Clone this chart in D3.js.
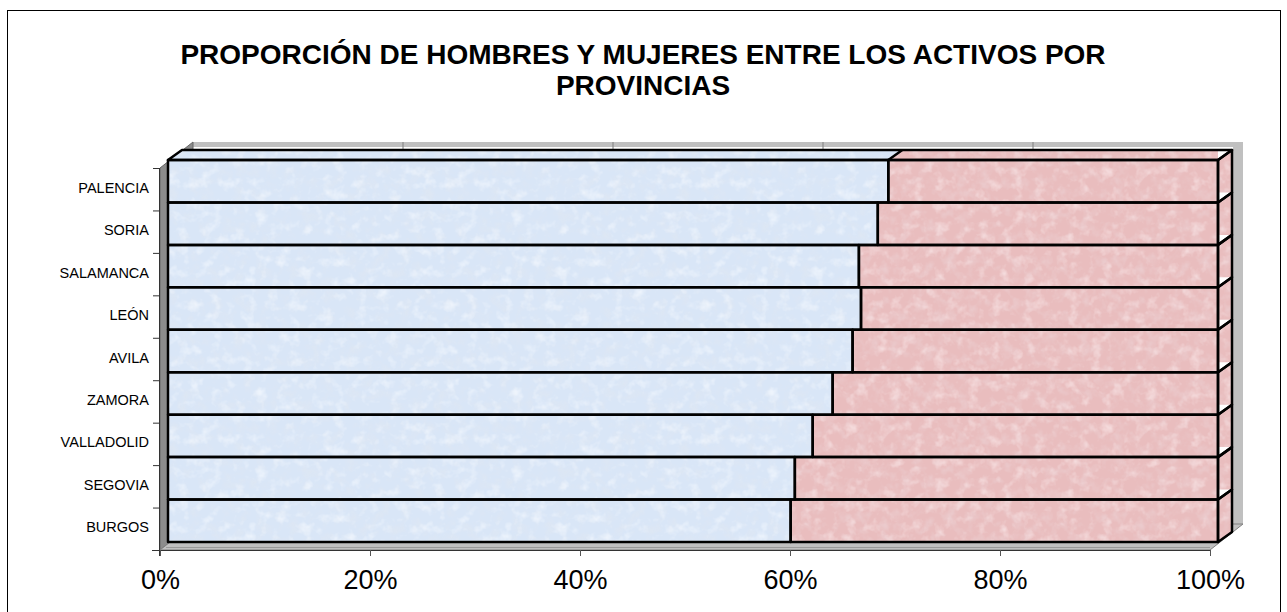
<!DOCTYPE html>
<html>
<head>
<meta charset="utf-8">
<script src="https://cdn.jsdelivr.net/npm/d3@7"></script>
<style>
  body { margin: 0; background: #fff; }
  svg { display: block; font-family: "Liberation Sans", Arial, sans-serif; }
</style>
</head>
<body>
<svg id="chart" width="1287" height="612"></svg>
<script>
// Data (bottom to top, as in the chart)
const categories = ['BURGOS', 'SEGOVIA', 'VALLADOLID', 'ZAMORA', 'AVILA', 'LEÓN', 'SALAMANCA', 'SORIA', 'PALENCIA'];
const hombres = [59.3, 59.7, 61.4, 63.3, 65.2, 66.0, 65.8, 67.6, 68.6];
const mujeres = [40.7, 40.3, 38.6, 36.7, 34.8, 34.0, 34.2, 32.4, 31.4];
const xTicks = [0, 20, 40, 60, 80, 100];
const tickLabels = ['0%', '20%', '40%', '60%', '80%', '100%'];
const titleLines = ['PROPORCIÓN DE HOMBRES Y MUJERES ENTRE LOS ACTIVOS POR', 'PROVINCIAS'];

// Layout
const x0 = 160, x1 = 1210, yTop = 168, yBot = 550;
const front = [8, -8];   // bar front face offset from axis plane
const depth = [14, -10]; // bar depth
const wall = [33, -26];  // back wall offset

const svg = d3.select('#chart');

// textures
const defs = svg.append('defs');
function texture(id, base, dark, light, seed) {
    const f = defs.append('filter').attr('id', 'n' + id)
        .attr('x', 0).attr('y', 0).attr('width', '100%').attr('height', '100%');
    f.append('feTurbulence').attr('type', 'fractalNoise').attr('baseFrequency', 0.09)
        .attr('numOctaves', 3).attr('seed', seed).attr('stitchTiles', 'stitch').attr('result', 't');
    f.append('feColorMatrix').attr('in', 't').attr('type', 'matrix')
        .attr('values', `0 0 0 0 ${dark[0]} 0 0 0 0 ${dark[1]} 0 0 0 0 ${dark[2]} 1.6 0 0 0 -0.72`).attr('result', 'd');
    f.append('feColorMatrix').attr('in', 't').attr('type', 'matrix')
        .attr('values', `0 0 0 0 ${light[0]} 0 0 0 0 ${light[1]} 0 0 0 0 ${light[2]} 0 -1.6 0 0 0.78`).attr('result', 'l');
    const m = f.append('feMerge');
    m.append('feMergeNode').attr('in', 'd');
    m.append('feMergeNode').attr('in', 'l');
    const p = defs.append('pattern').attr('id', id).attr('patternUnits', 'userSpaceOnUse')
        .attr('width', 256).attr('height', 256);
    p.append('rect').attr('width', 256).attr('height', 256).attr('fill', base);
    p.append('rect').attr('width', 256).attr('height', 256).attr('filter', `url(#n${id})`);
}
texture('texBlue', '#d9e6f7', [0.74, 0.80, 0.89], [0.93, 0.96, 1.0], 3);
texture('texPink', '#e9bdbe', [0.84, 0.64, 0.66], [0.96, 0.82, 0.83], 7);

// outer frame
svg.append('rect').attr('x', 7.5).attr('y', 10.5).attr('width', 1273).attr('height', 620)
    .attr('fill', 'none').attr('stroke', '#000').attr('stroke-width', 1);

// title
svg.append('text').attr('x', 643).attr('y', 64).attr('text-anchor', 'middle')
    .attr('font-size', 28).attr('font-weight', 'bold')
    .selectAll('tspan').data(titleLines).enter().append('tspan')
    .attr('x', 643).attr('dy', (d, i) => i ? 31 : 0).text(d => d);

// scales
const x = d3.scaleLinear().domain([0, 100]).range([x0, x1]);
const y = d3.scaleBand().domain(categories).range([yBot, yTop]).padding(0);

const pt = (px, py, off) => [px + off[0], py + off[1]];
const poly = pts => pts.map(p => p.join(',')).join(' ');

// back wall
const bw = svg.append('g');
bw.append('rect').attr('x', x0 + wall[0]).attr('y', yTop + wall[1])
    .attr('width', x1 - x0).attr('height', yBot - yTop).attr('fill', '#c0c0c0');
bw.append('rect').attr('x', x0 + wall[0]).attr('y', yTop + wall[1] + 5)
    .attr('width', x1 - x0 - 10).attr('height', yBot - yTop - 5).attr('fill', '#fff');
bw.selectAll('line').data(xTicks.slice(1, -1)).enter().append('line')
    .attr('x1', d => x(d) + wall[0]).attr('x2', d => x(d) + wall[0])
    .attr('y1', yTop + wall[1]).attr('y2', yBot + wall[1])
    .attr('stroke', '#808080').attr('stroke-width', 1);

// left wall
svg.append('polygon')
    .attr('points', poly([[x0, yBot], [x0, yTop], pt(x0, yTop, wall), pt(x0, yBot, wall)]))
    .attr('fill', '#8c8c8c').attr('stroke', '#666').attr('stroke-width', 1);
// floor
svg.append('polygon')
    .attr('points', poly([[x0, yBot], [x1, yBot], pt(x1, yBot, wall), pt(x0, yBot, wall)]))
    .attr('fill', '#c0c0c0').attr('stroke', '#808080').attr('stroke-width', 1);
svg.append('line').attr('x1', x0 + 6).attr('x2', x1).attr('y1', yBot - 2.5).attr('y2', yBot - 2.5)
    .attr('stroke', '#9a9a9a').attr('stroke-width', 1);

// bars
const rows = categories.map((c, i) => ({ c, h: hombres[i], m: mujeres[i] }));
const bars = svg.append('g');
const topCat = categories[categories.length - 1];
const sw = 2.5;

rows.forEach(r => {
    const yT = y(r.c) + front[1];
    const yB = yT + y.bandwidth();
    const xa = x(0) + front[0];
    const xm = x(r.h) + front[0];
    const xb = x(r.h + r.m) + front[0];
    const g = bars.append('g');
    // top faces
    g.append('polygon').attr('points', poly([[xa, yT], [xm, yT], pt(xm, yT, depth), pt(xa, yT, depth)]))
        .attr('fill', 'url(#texBlue)');
    g.append('polygon').attr('points', poly([[xm, yT], [xb, yT], pt(xb, yT, depth), pt(xm, yT, depth)]))
        .attr('fill', 'url(#texPink)');
    // side face
    g.append('polygon').attr('points', poly([[xb, yT], pt(xb, yT, depth), pt(xb, yB, depth), [xb, yB]]))
        .attr('fill', 'url(#texPink)');
    // front faces
    g.append('rect').attr('x', xa).attr('y', yT).attr('width', xm - xa).attr('height', yB - yT)
        .attr('fill', 'url(#texBlue)');
    g.append('rect').attr('x', xm).attr('y', yT).attr('width', xb - xm).attr('height', yB - yT)
        .attr('fill', 'url(#texPink)');
    r.geo = { yT, yB, xa, xm, xb };
});

// unfilled corners of the top faces
rows.forEach(r => {
    const { yT, xb } = r.geo;
    bars.append('polygon').attr('points', poly([[xb, yT], pt(xb, yT, depth), [xb, yT + depth[1]]]))
        .attr('fill', '#fff');
});

// outlines
rows.forEach(r => {
    const { yT, yB, xa, xm, xb } = r.geo;
    const o = bars.append('g').attr('fill', 'none').attr('stroke', '#000')
        .attr('stroke-width', sw).attr('stroke-linejoin', 'round');
    o.append('rect').attr('x', xa).attr('y', yT).attr('width', xm - xa).attr('height', yB - yT);
    o.append('rect').attr('x', xm).attr('y', yT).attr('width', xb - xm).attr('height', yB - yT);
    o.append('polygon').attr('points', poly([[xb, yT], pt(xb, yT, depth), pt(xb, yB, depth), [xb, yB]]));
    if (r.c === topCat) {
        o.append('polygon').attr('points', poly([[xa, yT], [xb, yT], pt(xb, yT, depth), pt(xa, yT, depth)]));
        o.append('line').attr('x1', xm).attr('y1', yT)
            .attr('x2', xm + depth[0]).attr('y2', yT + depth[1]);
    }
});

// category axis
const ya = svg.append('g').attr('stroke', '#333').attr('stroke-width', 1);
ya.append('line').attr('x1', x0 - 0.5).attr('x2', x0 - 0.5).attr('y1', yTop).attr('y2', yBot + 6);
const bounds = categories.map(c => y(c)).concat([yBot]);
ya.selectAll('.tk').data(bounds).enter().append('line')
    .attr('x1', x0 - 7).attr('x2', x0).attr('y1', d => d + 0.5).attr('y2', d => d + 0.5);
svg.append('g').selectAll('text').data(categories).enter().append('text')
    .attr('x', 149).attr('y', d => y(d) + y.bandwidth() / 2 + 3.5)
    .attr('text-anchor', 'end').attr('font-size', 14.5).attr('fill', '#000')
    .text(d => d);

// value axis
const xAxis = d3.axisBottom(x).tickValues(xTicks)
    .tickFormat((d, i) => tickLabels[i]).tickSize(6).tickPadding(14);
const xg = svg.append('g').attr('transform', `translate(0,${yBot})`).call(xAxis);
xg.select('.domain').attr('stroke', '#333').attr('d', `M${x0 - 8},0.5H${x1}`);
xg.selectAll('.tick line').attr('stroke', '#555');
xg.selectAll('.tick text').attr('font-size', 27).attr('font-family', '"Liberation Sans", Arial, sans-serif')
    .attr('fill', '#000');
</script>
</body>
</html>
